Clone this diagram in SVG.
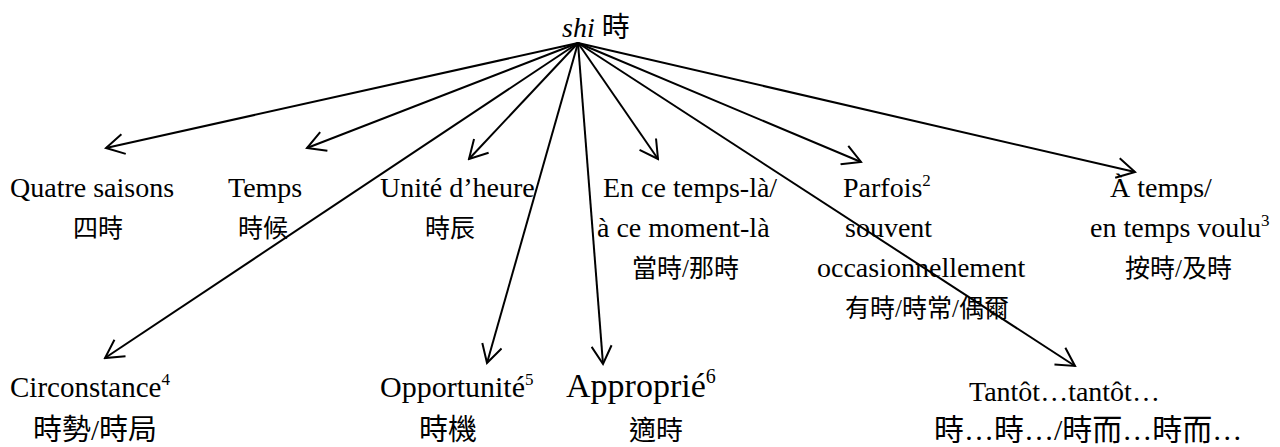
<svg xmlns="http://www.w3.org/2000/svg" width="1280" height="447" viewBox="0 0 1280 447">
<defs>
<style>
text{font-family:"Liberation Serif","Noto Sans CJK TC","Noto Sans CJK SC",serif;fill:#000}
.lt{font-size:28px}
.cj{font-size:25px}
.bl{font-size:30px}
.bc{font-size:30px}
.sup{font-size:17px}
.conn line{stroke:#000;stroke-width:2;fill:none;marker-end:url(#ah)}
</style>
<marker id="ah" viewBox="0 0 22 22" refX="20" refY="11" markerWidth="22" markerHeight="22" markerUnits="userSpaceOnUse" orient="auto">
<path d="M2,1 L20,11 L2,21" fill="none" stroke="#000" stroke-width="2"/>
</marker>
</defs>
<rect width="1280" height="447" fill="#fff"/>
<g id="connectors" class="conn">
<line x1="578" y1="43" x2="106" y2="148"/>
<line x1="578" y1="43" x2="307" y2="148"/>
<line x1="578" y1="43" x2="469" y2="159"/>
<line x1="578" y1="43" x2="658" y2="159"/>
<line x1="578" y1="43" x2="861" y2="162"/>
<line x1="578" y1="43" x2="1135" y2="172"/>
<line x1="578" y1="43" x2="105" y2="358"/>
<line x1="578" y1="43" x2="487" y2="363"/>
<line x1="578" y1="43" x2="603" y2="364"/>
<line x1="578" y1="43" x2="1075" y2="366"/>
</g>
<g id="root"><text class="lt" x="562" y="37"><tspan font-style="italic">shi</tspan> 時</text></g>
<g id="quatre"><text class="lt" x="10" y="197">Quatre saisons</text><text class="cj" x="73" y="237">四時</text></g>
<g id="temps"><text class="lt" x="228" y="197">Temps</text><text class="cj" x="238" y="237">時候</text></g>
<g id="unite"><text class="lt" x="380" y="197">Unité d’heure</text><text class="cj" x="425" y="237">時辰</text></g>
<g id="encetemps"><text class="lt" x="603" y="197">En ce temps-là/</text><text class="lt" x="597" y="237">à ce moment-là</text><text class="cj" x="632" y="277">當時/那時</text></g>
<g id="parfois"><text class="lt" x="843" y="197">Parfois<tspan class="sup" dy="-11">2</tspan></text><text class="lt" x="845" y="237">souvent</text><text class="lt" x="817" y="277">occasionnellement</text><text class="cj" x="845" y="317">有時/時常/偶爾</text></g>
<g id="atemps"><text class="lt" x="1110" y="197">À temps/</text><text class="lt" x="1090" y="237">en temps voulu<tspan class="sup" dy="-11">3</tspan></text><text class="cj" x="1125" y="277">按時/及時</text></g>
<g id="circonstance"><text class="lt" style="font-size:29px" x="10" y="397">Circonstance<tspan class="sup" dy="-12">4</tspan></text><text class="bc" style="font-size:29px" x="33" y="440">時勢/時局</text></g>
<g id="opportunite"><text class="bl" x="380" y="397">Opportunité<tspan class="sup" dy="-12">5</tspan></text><text class="bc" style="font-size:29px" x="419" y="440">時機</text></g>
<g id="approprie"><text class="bl" style="font-size:34px" x="566" y="397">Approprié<tspan class="sup" style="font-size:20px" dy="-14">6</tspan></text><text class="bc" style="font-size:27px" x="629" y="440">適時</text></g>
<g id="tantot"><text class="lt" x="969" y="401">Tantôt…tantôt…</text><text class="bc" x="934" y="440">時…時…/時而…時而…</text></g>
</svg>
